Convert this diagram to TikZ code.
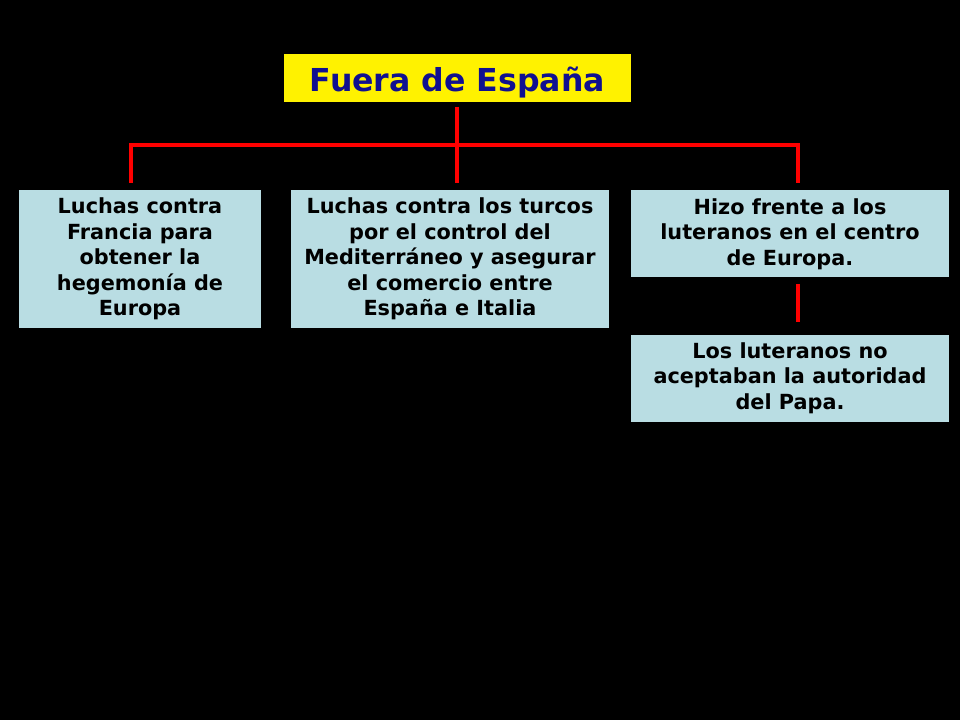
\documentclass[tikz,border=0pt]{standalone}
\usepackage{fontspec}
\setmainfont{DejaVu Sans}
\begin{document}
\begin{tikzpicture}[x=0.75pt,y=-0.75pt,
  boxtxt/.style={fill=boxblue,inner sep=0pt,align=center,font=\bfseries\fontsize{15.6}{19.1}\selectfont,text=black},
  link/.style={draw=red,line width=3pt}]
\definecolor{boxblue}{HTML}{B9DDE3}
\definecolor{titleblue}{HTML}{101090}
\fill[black] (0,0) rectangle (960,720);
\useasboundingbox (0,0) rectangle (960,720);
\node[fill=yellow,inner sep=0pt,minimum width=260.25pt,minimum height=36pt,text height=21pt,text depth=0pt,text=titleblue,font=\bfseries\fontsize{23.7}{28}\selectfont] (title) at (457.5,78) {Fuera de España};
\node[boxtxt,minimum width=181.5pt,minimum height=102.75pt] (b1) at (140,259) {Luchas contra\\Francia para\\obtener la\\hegemonía de\\Europa};
\node[boxtxt,minimum width=238.5pt,minimum height=102.75pt] (b2) at (450,259) {Luchas contra los turcos\\por el control del\\Mediterráneo y asegurar\\el comercio entre\\España e Italia};
\node[boxtxt,minimum width=238.5pt,minimum height=65.25pt] (b3) at (790,234) {Hizo frente a los\\luteranos en el centro\\de Europa.};
\node[boxtxt,minimum width=238.5pt,minimum height=65.25pt] (b4) at (790,378) {Los luteranos no\\aceptaban la autoridad\\del Papa.};
\coordinate (t0) at (457,107);
\coordinate (hm) at (457,145);
\coordinate (hl) at (131,145);
\coordinate (hr) at (798,145);
\coordinate (e1) at (131,183);
\coordinate (e2) at (457,183);
\coordinate (e3) at (798,183);
\coordinate (s3) at (798,284);
\coordinate (e4) at (798,322);
\draw[link] (t0) -- (hm);
\draw[link] (e1) -- (hl) -- (hr) -- (e3);
\draw[link] (hm) -- (e2);
\draw[link] (s3) -- (e4);
\end{tikzpicture}
\end{document}
